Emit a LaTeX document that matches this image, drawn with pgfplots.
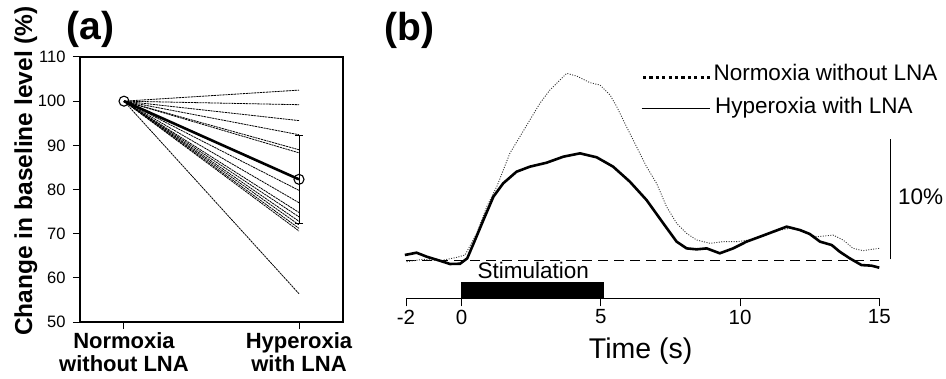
\documentclass[border=0pt]{standalone}
\usepackage{fontspec}
\setmainfont{Liberation Sans}
\usepackage{pgfplots}
\pgfplotsset{compat=1.18}

\pgfplotstableread{
t v
-2.04 0.42
-1.62 0.61
-1.26 0.28
-0.78 -0.06
-0.42 -0.33
-0.06 -0.31
0.20 0.14
0.48 1.67
0.78 3.33
1.14 5.28
1.49 6.39
1.97 7.36
2.45 7.78
3.05 8.11
3.65 8.61
4.25 8.89
4.85 8.56
5.44 7.78
6.04 6.53
6.64 5.00
7.24 3.06
7.72 1.53
8.08 0.97
8.44 0.89
8.80 0.97
9.27 0.56
9.75 0.97
10.23 1.53
10.71 1.94
11.19 2.36
11.67 2.78
12.15 2.50
12.50 2.17
12.87 1.53
13.29 1.25
13.58 0.69
13.94 0.14
14.36 -0.42
14.72 -0.47
15.00 -0.64
}\hyper

\pgfplotstableread{
t v
-1.98 -0.14
-1.38 0.06
-0.78 -0.06
-0.18 0.22
0.12 0.42
0.54 2.22
0.90 4.44
1.26 6.11
1.73 8.89
2.09 10.28
2.45 11.67
2.81 13.06
3.17 14.17
3.53 15.00
3.77 15.56
4.13 15.33
4.61 14.78
4.97 14.58
5.33 13.75
5.57 12.78
5.92 11.11
6.28 9.44
6.64 7.78
7.00 6.39
7.36 4.44
7.72 3.06
8.08 2.22
8.44 1.67
8.92 1.39
9.39 1.53
9.87 1.53
10.35 1.67
10.95 2.08
11.43 2.50
11.79 2.64
12.27 2.44
12.75 1.94
13.34 2.08
13.70 1.67
14.06 0.97
14.42 0.78
14.72 0.89
15.00 0.97
}\normox

\begin{document}
\begin{tikzpicture}[x=1pt,y=1pt]
\path[use as bounding box] (0,0) rectangle (946,378);

% ---------------- panel (a)
\begin{axis}[
  at={(80pt,56pt)}, anchor=south west,
  scale only axis, width=263pt, height=265pt,
  xmin=-0.2514, xmax=1.2514, ymin=50, ymax=110,
  xtick={0,1},
  xticklabels={{Normoxia\\without LNA},{Hyperoxia\\with LNA}},
  xticklabel style={font=\fontsize{22}{23}\selectfont\bfseries, align=center},
  ytick={50,60,70,80,90,100,110},
  yticklabels={50,60,70,80,90,100,110},
  yticklabel style={font=\fontsize{16.5}{16.5}\selectfont, xshift=-4pt},
  tick align=outside, xtick pos=left, ytick pos=left,
  major tick length=7pt,
  axis line style={line width=1.3pt},
  every tick/.style={line width=1pt, black},
  clip=false,
  indiv/.style={black, line width=0.8pt, dash pattern=on 2.2pt off 0.7pt},
]
\addplot[indiv] coordinates {(0,100) (1,102.5)};
\addplot[indiv] coordinates {(0,100) (1,99.2)};
\addplot[indiv] coordinates {(0,100) (1,95.6)};
\addplot[indiv] coordinates {(0,100) (1,92.4)};
\addplot[indiv] coordinates {(0,100) (1,89.0)};
\addplot[indiv] coordinates {(0,100) (1,88.3)};
\addplot[indiv] coordinates {(0,100) (1,79.8)};
\addplot[indiv] coordinates {(0,100) (1,77.0)};
\addplot[indiv] coordinates {(0,100) (1,74.8)};
\addplot[indiv] coordinates {(0,100) (1,73.8)};
\addplot[indiv] coordinates {(0,100) (1,72.8)};
\addplot[indiv] coordinates {(0,100) (1,72.0)};
\addplot[indiv] coordinates {(0,100) (1,71.2)};
\addplot[indiv] coordinates {(0,100) (1,70.6)};
\addplot[indiv] coordinates {(0,100) (1,56.4)};
% error bar (SD)
\addplot[black, line width=0.8pt, mark=none, draw=none,
  error bars/.cd, y dir=both, y explicit,
  error bar style={line width=0.9pt, solid},
  error mark options={rotate=90, mark size=4pt, line width=0.9pt}]
  coordinates {(1,82.3) +- (0,10)};
% mean
\addplot[black, line width=2.6pt, mark=o, mark size=5pt,
  mark options={fill=white, line width=1.1pt, solid}]
  coordinates {(0,100) (1,82.3)};
\end{axis}

\node[font=\fontsize{39}{39}\selectfont\bfseries, anchor=base west] at (63,338) {(a)};
\node[font=\fontsize{24.5}{25}\selectfont\bfseries, rotate=90, anchor=base] at (32,207) {Change in baseline level (\%)};

% ---------------- panel (b)
\begin{axis}[
  at={(406pt,79.7pt)}, anchor=south west,
  scale only axis, width=473.3pt, height=238.3pt,
  xmin=-2, xmax=15, ymin=-3.19, ymax=16.67,
  axis x line*=bottom, axis y line=none,
  axis line style={-, line width=1pt},
  xtick={-2,0,5,10,15}, xticklabels={-2,0,5,10,15},
  ytick=\empty,
  tick align=outside, major tick length=8pt,
  every tick/.style={line width=1pt, black},
  xticklabel style={font=\fontsize{20.5}{20.5}\selectfont},
  clip=false,
]
% stimulation bar
\addplot[fill=black, draw=black] coordinates {(0,-3.19) (0,-1.86) (5.08,-1.86) (5.08,-3.19)} -- cycle;
% baseline
\addplot[black, line width=0.7pt, dash pattern=on 10pt off 6pt] coordinates {(-2,0) (15,0)};
% normoxia without LNA (dotted)
\addplot[gray!40!black, line width=0.9pt, dash pattern=on 1pt off 1.5pt] table[x=t, y=v] {\normox};
% hyperoxia with LNA (thick)
\addplot[black, line width=2.6pt] table[x=t, y=v] {\hyper};
% scale bar 10%
\addplot[black, line width=1pt] coordinates {(15.40,0.05) (15.40,10.05)};
\end{axis}

\node[font=\fontsize{39}{39}\selectfont\bfseries, anchor=base west] at (381,337) {(b)};
\node[font=\fontsize{28.5}{29}\selectfont, anchor=base] at (640.7,19.7) {Time (s)};
\node[font=\fontsize{22.5}{23}\selectfont, anchor=base] at (533.3,99.7) {Stimulation};
\node[font=\fontsize{22.5}{23}\selectfont, anchor=base west, inner sep=0pt] at (898,173) {10\%};

% legend
\draw[black, line width=2.8pt, dash pattern=on 3.2pt off 3.2pt] (643,300.3) -- (712,300.3);
\node[font=\fontsize{22.5}{23}\selectfont, anchor=base west, inner sep=0pt] at (713.3,297.3) {Normoxia without LNA};
\draw[black, line width=1pt] (641.7,269.7) -- (710,269.7);
\node[font=\fontsize{22.5}{23}\selectfont, anchor=base west, inner sep=0pt] at (715,264.7) {Hyperoxia with LNA};
\end{tikzpicture}
\end{document}
